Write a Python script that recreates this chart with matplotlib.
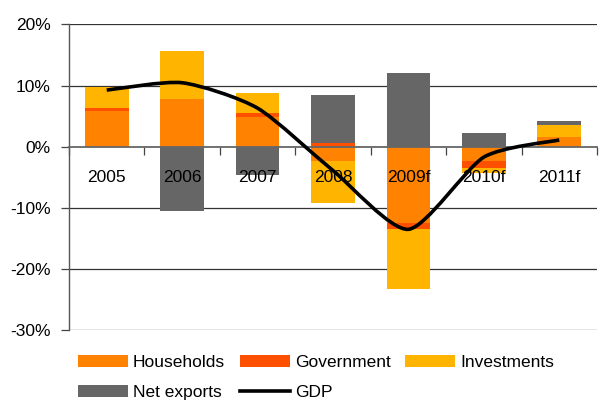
import numpy as np
import matplotlib
matplotlib.use("Agg")
import matplotlib.pyplot as plt
from matplotlib.path import Path
from matplotlib.patches import PathPatch
from matplotlib.lines import Line2D

plt.rcParams['font.family'] = ['Liberation Sans', 'DejaVu Sans']

years = ["2005", "2006", "2007", "2008", "2009f", "2010f", "2011f"]
households = [5.9, 7.8, 4.85, -2.3, -12.45, -2.3, 1.55]
government = [0.4, 0.0, 0.65, 0.6, -1.0, -1.25, 0.0]
investments = [3.45, 7.8, 3.3, -6.85, -9.75, -0.7, 2.0]
net_exports = [0.0, -10.45, -4.6, 7.85, 12.05, 2.25, 0.65]
gdp = [9.25, 10.45, 6.3, -3.9, -13.5, -1.7, 1.1]

series_names = ["Households", "Government", "Investments", "Net exports"]
series_vals = [households, government, investments, net_exports]
colors = ["#FF8200", "#FF5000", "#FFB400", "#666666"]

fig = plt.figure(figsize=(6.03, 4.01), dpi=100)
ax = fig.add_axes([69/603, 1-330.3/401, (597-69)/603, (330.3-24.3)/401])

x = np.arange(len(years))
pos = np.zeros(len(years))
neg = np.zeros(len(years))
handles = []
for name, vals, c in zip(series_names, series_vals, colors):
    v = np.array(vals, dtype=float)
    bottom = np.where(v >= 0, pos, neg)
    b = ax.bar(x, v, width=0.58, bottom=bottom, color=c, label=name, zorder=1, linewidth=0)
    handles.append(b)
    pos = pos + np.where(v > 0, v, 0)
    neg = neg + np.where(v < 0, v, 0)

# smoothed GDP line (Bezier through the data points)
tension = 0.7
px = x.astype(float)
py = np.array(gdp, dtype=float)
verts = [(px[0], py[0])]
codes = [Path.MOVETO]
n = len(px)
for i in range(n - 1):
    p0 = (px[max(i-1, 0)], py[max(i-1, 0)])
    p1 = (px[i], py[i])
    p2 = (px[i+1], py[i+1])
    p3 = (px[min(i+2, n-1)], py[min(i+2, n-1)])
    c1 = (p1[0] + tension*(p2[0]-p0[0])/6, p1[1] + tension*(p2[1]-p0[1])/6)
    c2 = (p2[0] - tension*(p3[0]-p1[0])/6, p2[1] - tension*(p3[1]-p1[1])/6)
    verts += [c1, c2, p2]
    codes += [Path.CURVE4]*3
ax.add_patch(PathPatch(Path(verts, codes), facecolor='none', edgecolor='black',
                       linewidth=2.6, zorder=4, capstyle='butt', joinstyle='round'))
gdp_handle = Line2D([], [], color='black', linewidth=2.6, label='GDP')

ax.set_xlim(-0.5, len(years) - 0.5)
ax.set_ylim(-30, 20)
yt = [20, 10, 0, -10, -20, -30]
ax.set_yticks(yt)
ax.set_yticklabels([f"{v}%" for v in yt], fontsize=12.5)
ax.tick_params(axis='y', length=6, width=0.9, color='#444444', pad=7)
for v in yt:
    if v != 0:
        ax.axhline(v, color='#333333', linewidth=0.9, zorder=0)

ax.spines['top'].set_visible(False)
ax.spines['right'].set_visible(False)
ax.spines['left'].set_color('#555555')
ax.spines['left'].set_linewidth(1.0)
ax.spines['bottom'].set_position(('data', 0))
ax.spines['bottom'].set_color('#666666')
ax.spines['bottom'].set_linewidth(1.3)
ax.spines['bottom'].set_zorder(3)

ax.set_xticks(np.arange(len(years) + 1) - 0.5)
ax.set_xticklabels([])
ax.tick_params(axis='x', which='major', length=6, width=0.9, color='#444444', direction='out')
ax.set_xticks(x, minor=True)
ax.set_xticklabels(years, minor=True, fontsize=12.5)
ax.tick_params(axis='x', which='minor', length=0, pad=17)

leg_handles = [handles[0], handles[3], handles[1], gdp_handle, handles[2]]
fig.legend(handles=leg_handles, loc='upper left', bbox_to_anchor=(78/603, 1-355/401),
           ncol=3, frameon=False, fontsize=12.5, handlelength=2.87, handleheight=0.7,
           handletextpad=0.3, columnspacing=0.85, labelspacing=0.85, borderpad=0,
           borderaxespad=0)

fig.savefig("out.png", dpi=100)
